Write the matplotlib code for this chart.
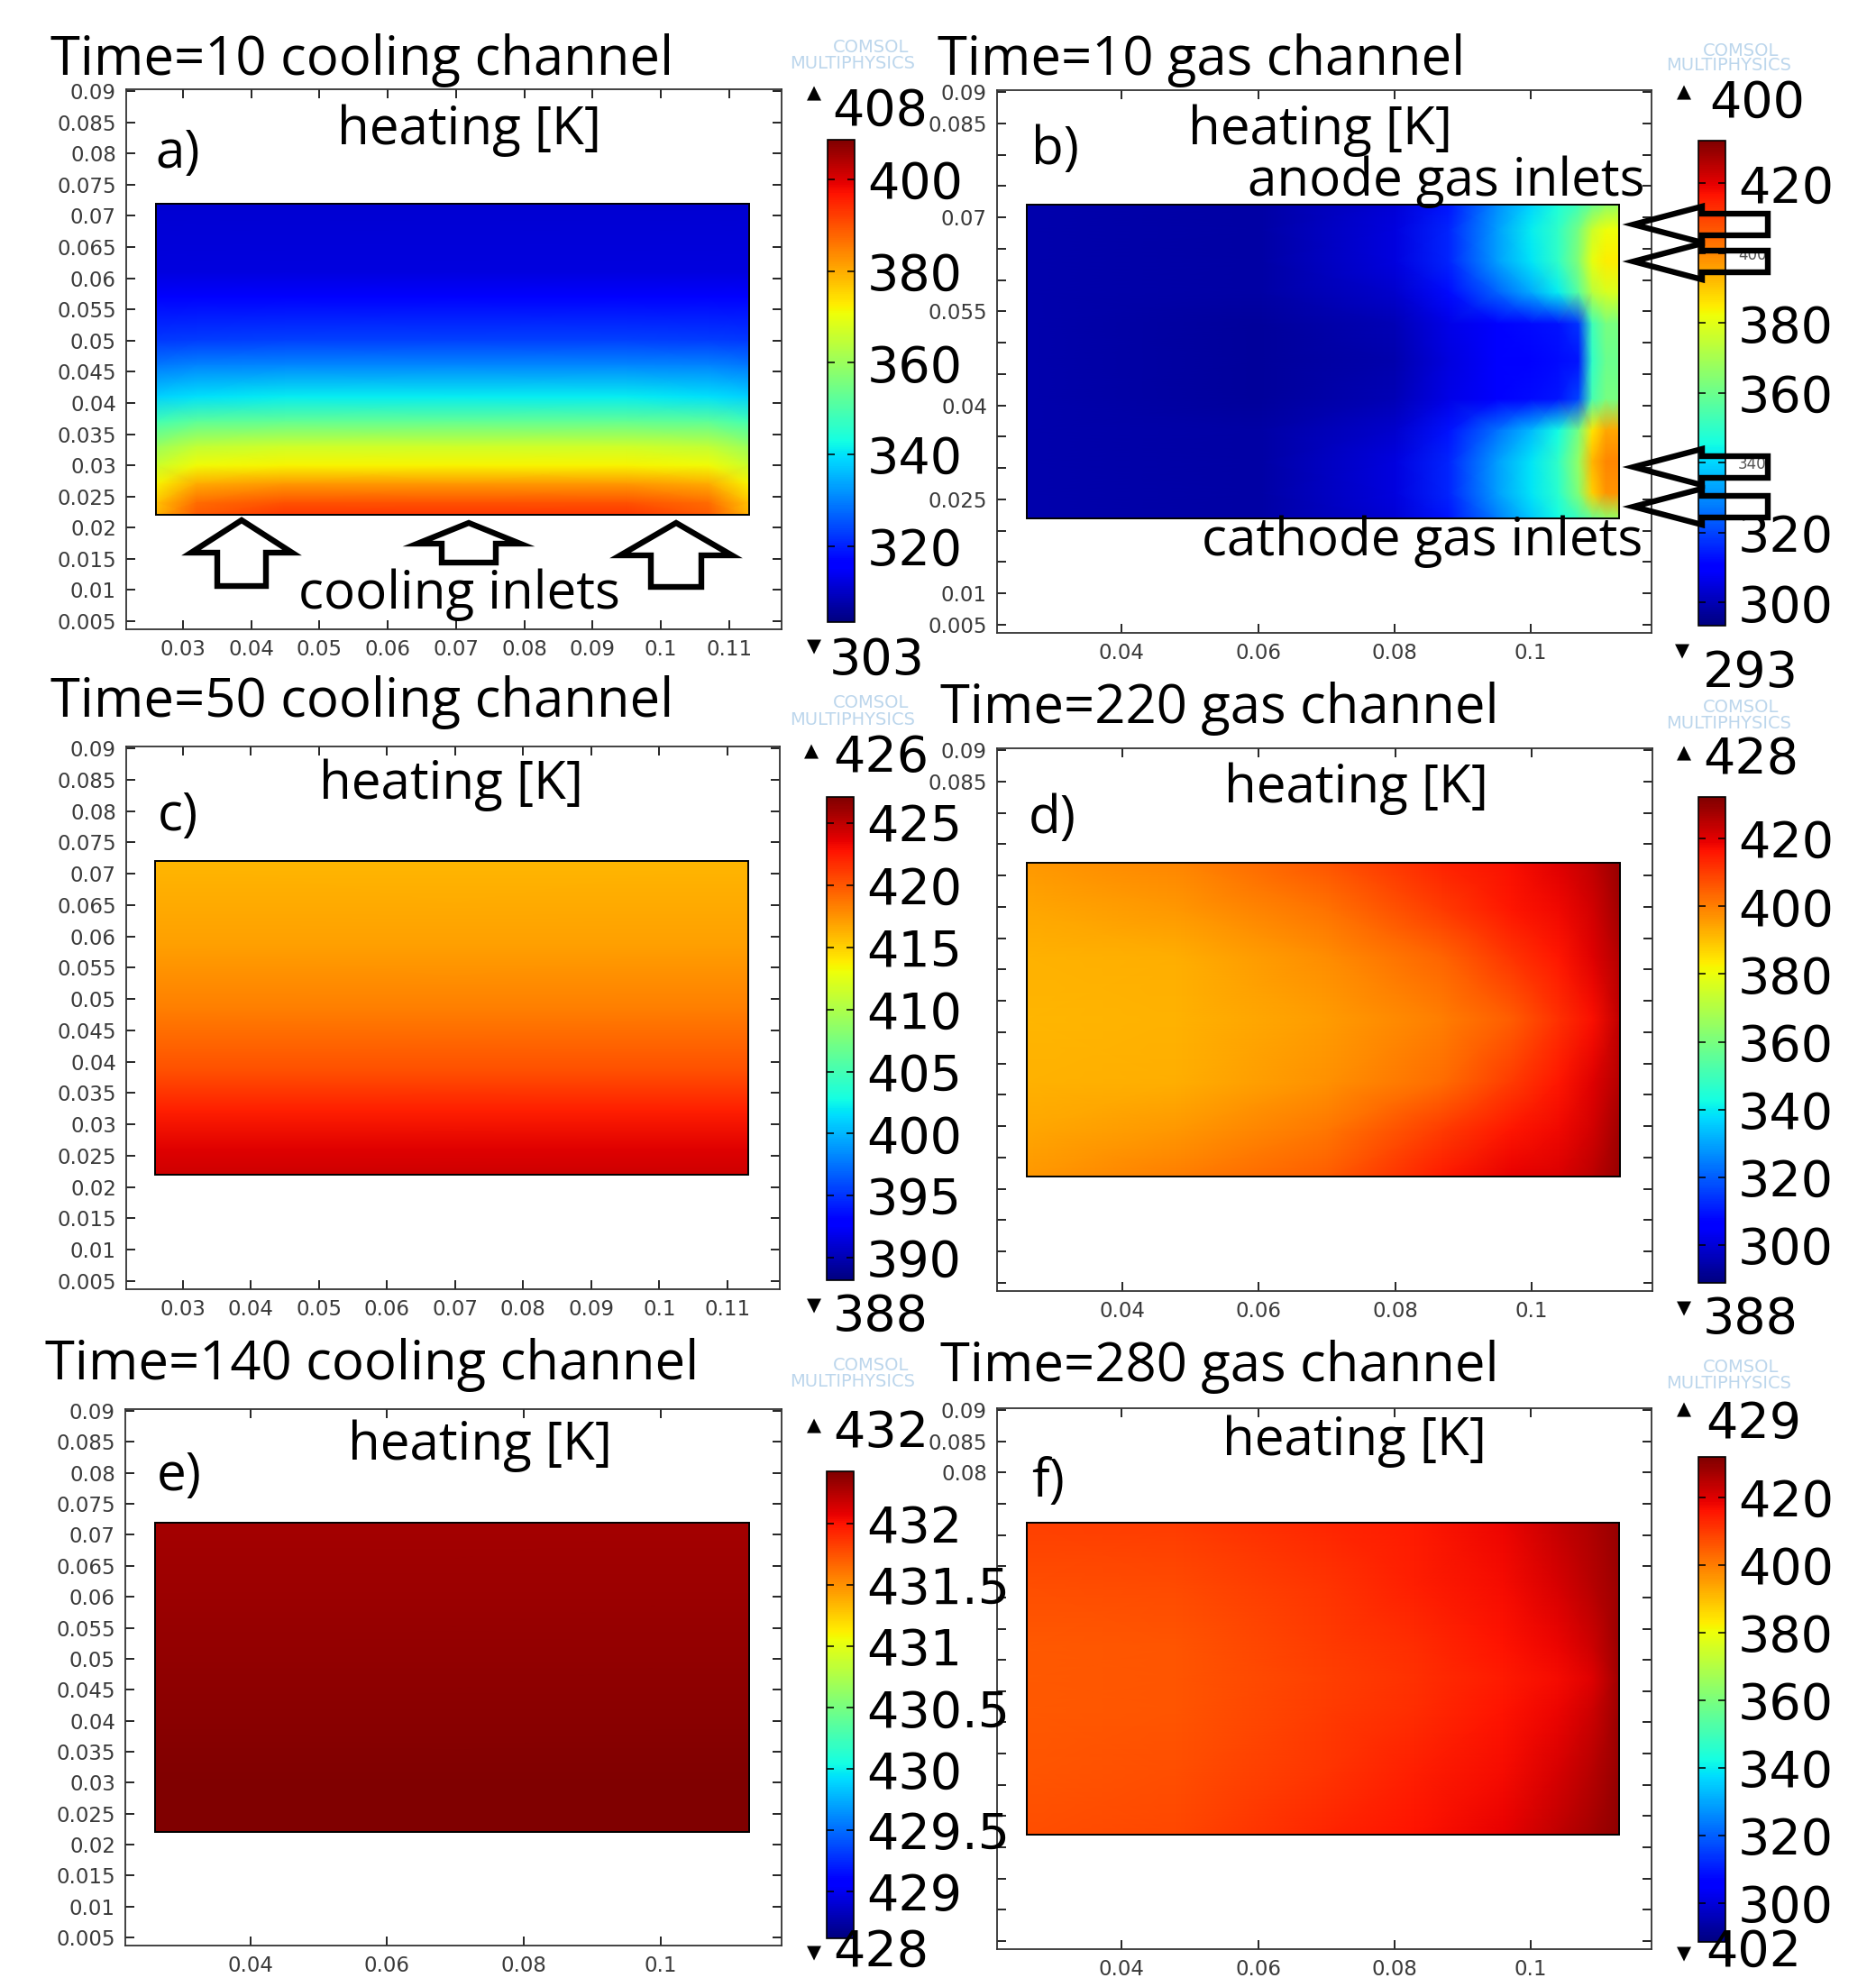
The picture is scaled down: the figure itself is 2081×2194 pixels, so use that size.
import numpy as np
import matplotlib
matplotlib.use("Agg")
import matplotlib.pyplot as plt
from matplotlib.patches import Polygon, Rectangle

# ---------------- data ----------------
# heating field [K] on the channel rectangle, rows from top (y=0.072) to bottom (y=0.022)

# a) Time=10 cooling channel
a_x = [0.026, 0.032, 0.045, 0.07, 0.095, 0.107, 0.113]
a_y = [0.072, 0.061, 0.057, 0.050, 0.046, 0.041, 0.037, 0.033, 0.030, 0.027, 0.024, 0.022]
a_T = [
    [311, 311, 311, 311, 311, 311, 311],
    [312.5, 312.5, 312.5, 312.5, 312.5, 312.5, 312.5],
    [315.5, 316, 316, 316, 316, 316, 315.5],
    [322.5, 323, 323.5, 323.5, 323.5, 323, 322.5],
    [329, 330.5, 331, 331, 331, 330.5, 329],
    [338, 340, 341, 341, 341, 340, 338],
    [349, 352, 353, 353, 353, 352, 349],
    [360, 365, 366.5, 366.5, 366.5, 365, 360],
    [366, 371, 372, 372, 372, 371, 366],
    [372, 380, 382, 382, 382, 380, 372],
    [377, 387, 390, 390, 390, 387, 377],
    [379, 389, 393, 393, 393, 389, 379],
]

# b) Time=10 gas channel
b_x = [0.026, 0.06, 0.08, 0.088, 0.095, 0.100, 0.104, 0.107, 0.109, 0.111, 0.113]
b_y = [0.072, 0.068, 0.063, 0.058, 0.053, 0.047, 0.041, 0.036, 0.031, 0.026, 0.022]
b_T = [
    [299, 298, 304, 314, 330, 340, 347, 353, 360, 366, 368],
    [299, 298, 305, 316, 332, 343, 350, 362, 376, 382, 382],
    [299, 298, 305, 316, 332, 342, 350, 364, 381, 385, 385],
    [299, 298, 303, 312, 324, 334, 343, 357, 373, 378, 378],
    [299, 297, 300, 306, 310, 312, 313, 318, 352, 362, 362],
    [299, 297, 299, 305, 309, 311, 312, 314, 350, 360, 360],
    [299, 297, 300, 306, 310, 312, 314, 320, 354, 362, 362],
    [299, 298, 303, 313, 326, 336, 345, 362, 386, 395, 395],
    [299, 298, 305, 316, 332, 342, 350, 367, 393, 400, 400],
    [299, 298, 305, 316, 332, 342, 349, 364, 389, 398, 398],
    [299, 298, 304, 314, 328, 338, 345, 352, 360, 366, 368],
]

# c) Time=50 cooling channel (no variation along x)
c_x = [0.026, 0.113]
c_y = [0.072, 0.0586, 0.0484, 0.0383, 0.0322, 0.026, 0.022]
c_T = [
    [416.1, 416.1],
    [417.0, 417.0],
    [418.3, 418.3],
    [420.3, 420.3],
    [422.3, 422.3],
    [423.8, 423.8],
    [424.5, 424.5],
]

# d) Time=220 gas channel
d_x = [0.026, 0.048, 0.070, 0.087, 0.097, 0.104, 0.109, 0.113]
d_y = [0.072, 0.0645, 0.057, 0.047, 0.037, 0.0295, 0.022]
d_T = [
    [396, 399, 406, 414, 417, 420, 424, 429],
    [394, 396, 402, 410, 416, 418, 422, 428],
    [392.5, 393, 398, 404, 411, 416, 420, 426],
    [391.5, 392, 395.5, 400, 405, 412, 417, 424],
    [392.5, 393, 397, 403, 410, 416, 420, 426],
    [394, 396, 401, 410, 416, 418, 422, 428],
    [396, 400, 405, 415, 419, 421, 425, 429],
]

# e) Time=140 cooling channel
e_x = [0.026, 0.113]
e_y = [0.072, 0.06, 0.05, 0.04, 0.03, 0.022]
e_T = [
    [432.30, 432.30],
    [432.33, 432.33],
    [432.36, 432.36],
    [432.39, 432.39],
    [432.42, 432.42],
    [432.43, 432.43],
]

# f) Time=280 gas channel
f_x = [0.026, 0.048, 0.070, 0.083, 0.096, 0.104, 0.109, 0.113]
f_y = [0.072, 0.062, 0.052, 0.047, 0.042, 0.032, 0.022]
f_T = [
    [409, 410, 413, 415, 418, 423, 426, 429],
    [407, 407.5, 411, 414, 417, 421, 425, 428.5],
    [405.5, 406, 409.5, 412, 416, 418, 422, 428],
    [405.5, 406, 409, 411.5, 415, 417, 420, 427.5],
    [405.5, 406, 409.5, 412, 416, 418, 422, 428],
    [406, 407, 411, 414, 417, 421, 425, 429],
    [407, 408, 413, 416, 419, 424, 427, 430],
]

# axis ticks
y_ticks = [0.005, 0.01, 0.015, 0.02, 0.025, 0.03, 0.035, 0.04, 0.045,
           0.05, 0.055, 0.06, 0.065, 0.07, 0.075, 0.08, 0.085, 0.09]
y_labels_full = ['0.005', '0.01', '0.015', '0.02', '0.025', '0.03', '0.035', '0.04', '0.045',
                 '0.05', '0.055', '0.06', '0.065', '0.07', '0.075', '0.08', '0.085', '0.09']
y_labels_b = ['0.005', '0.01', '', '', '0.025', '', '', '0.04', '',
              '', '0.055', '', '', '0.07', '', '', '0.085', '0.09']
y_labels_d = ['', '', '', '', '', '', '', '', '', '', '', '', '', '', '', '', '0.085', '0.09']
y_labels_f = ['', '', '', '', '', '', '', '', '', '', '', '', '', '', '', '0.08', '0.085', '0.09']
x_ticks_fine = [0.03, 0.04, 0.05, 0.06, 0.07, 0.08, 0.09, 0.1, 0.11]
x_labels_fine = ['0.03', '0.04', '0.05', '0.06', '0.07', '0.08', '0.09', '0.1', '0.11']
x_ticks_coarse = [0.04, 0.06, 0.08, 0.1]
x_labels_coarse = ['0.04', '0.06', '0.08', '0.1']

# colour ranges and colourbar ticks
a_range, a_cticks = (303.5, 408.6), [320, 340, 360, 380, 400]
b_range, b_cticks = (293.4, 432.2), [300, 320, 340, 360, 380, 400, 420]
c_range, c_cticks = (388.2, 427.1), [390, 395, 400, 405, 410, 415, 420, 425]
d_range, d_cticks = (288.8, 432.3), [300, 320, 340, 360, 380, 400, 420]
e_range, e_cticks = (428.62, 432.43), [429, 429.5, 430, 430.5, 431, 431.5, 432]
f_range, f_cticks = (288.4, 431.9), [300, 320, 340, 360, 380, 400, 420]
e_clabels = ['429', '429.5', '430', '430.5', '431', '431.5', '432']

# ---------------- layout helpers (pixel positions on the 2081x2194 canvas) ----------------
W, H = 2081, 2194
fig = plt.figure(figsize=(W / 100, H / 100), dpi=100)


def box(l, t, r, b):
    return [l / W, 1 - b / H, (r - l) / W, (b - t) / H]


def put(x, y, s, **kw):
    fig.text(x / W, 1 - y / H, s, **kw)


def shape(points, lw=4.6):
    pts = [(px / W, 1 - py / H) for px, py in points]
    fig.add_artist(Polygon(pts, closed=True, fill=False, ec='black', lw=lw,
                           joinstyle='miter', transform=fig.transFigure, zorder=20))


def panel(axbox, cbbox, xs, ys, T, vr, xt, xl, yl, ct, cl=None):
    ax = fig.add_axes(box(*axbox))
    X, Y = np.meshgrid(xs, ys)
    m = ax.pcolormesh(X, Y, np.array(T), shading='gouraud', cmap='jet',
                      vmin=vr[0], vmax=vr[1])
    ax.add_patch(Rectangle((min(xs), min(ys)), max(xs) - min(xs), max(ys) - min(ys),
                           fill=False, ec='black', lw=1.4))
    ax.set_xlim(0.0217, 0.1177)
    ax.set_ylim(0.0037, 0.0903)
    ax.set_xticks(xt)
    ax.set_xticklabels(xl)
    ax.set_yticks(y_ticks)
    ax.set_yticklabels(yl)
    ax.tick_params(direction='in', top=True, right=True, length=7, width=1.2,
                   labelsize=16.5, labelcolor='#3a3a3a', pad=8)
    for s in ax.spines.values():
        s.set_linewidth(1.3)
        s.set_color('#333333')
    cax = fig.add_axes(box(*cbbox))
    cax.set_zorder(5)
    cb = fig.colorbar(m, cax=cax, ticks=ct)
    if cl is not None:
        cb.ax.set_yticklabels(cl)
    cb.ax.tick_params(direction='in', left=True, right=True, length=6, width=1.1,
                      labelsize=40, pad=10)
    cb.outline.set_linewidth(1.2)
    return ax, cb


title_kw = dict(family='Open Sans', fontsize=43, ha='left', va='baseline')
big_kw = dict(family='Open Sans', fontsize=42, va='baseline')
num_kw = dict(family='DejaVu Sans', fontsize=40, ha='left', va='baseline', zorder=10)
tri_kw = dict(family='DejaVu Sans', fontsize=15, ha='center', va='center')
wm_kw = dict(family='DejaVu Sans', fontsize=14, color='#bcd6ec', va='center')

# ---------------- panels ----------------
panel((140, 99, 867, 698), (918, 155, 948, 690), a_x, a_y, a_T, a_range,
      x_ticks_fine, x_labels_fine, y_labels_full, a_cticks)
_, cb_b = panel((1106, 100, 1832, 702), (1884, 156, 1914, 694), b_x, b_y, b_T, b_range,
                x_ticks_coarse, x_labels_coarse, y_labels_b, b_cticks)
for t in cb_b.ax.get_yticklabels():
    if t.get_text() in ('340', '400'):
        t.set_fontsize(12)
        t.set_color('#555555')
panel((140, 828, 865, 1430), (917, 884, 947, 1420), c_x, c_y, c_T, c_range,
      x_ticks_fine, x_labels_fine, y_labels_full, c_cticks)
panel((1106, 830, 1833, 1432), (1884, 884, 1914, 1423), d_x, d_y, d_T, d_range,
      x_ticks_coarse, x_labels_coarse, y_labels_d, d_cticks)
panel((139, 1563, 867, 2158), (917, 1632, 947, 2150), e_x, e_y, e_T, e_range,
      x_ticks_coarse, x_labels_coarse, y_labels_full, e_cticks, e_clabels)
panel((1106, 1562, 1832, 2162), (1884, 1616, 1914, 2154), f_x, f_y, f_T, f_range,
      x_ticks_coarse, x_labels_coarse, y_labels_f, f_cticks)

# ---------------- titles and labels ----------------
put(56, 83, 'Time=10 cooling channel', **title_kw)
put(1040, 83, 'Time=10 gas channel', **title_kw)
put(56, 795, 'Time=50 cooling channel', **title_kw)
put(1043, 802, 'Time=220 gas channel', **title_kw)
put(50, 1530, 'Time=140 cooling channel', **title_kw)
put(1043, 1532, 'Time=280 gas channel', **title_kw)

for x, y in [(520, 160), (1464, 160), (501, 886), (1504, 890), (532, 1619), (1502, 1614)]:
    put(x, y, 'heating [K]', ha='center', **big_kw)
for x, y, s in [(172, 186, 'a)'), (1144, 182, 'b)'), (175, 921, 'c)'),
                (1141, 924, 'd)'), (174, 1653, 'e)'), (1144, 1660, 'f)')]:
    put(x, y, s, ha='left', **big_kw)

put(509, 675, 'cooling inlets', ha='center', **big_kw)
put(1824, 217, 'anode gas inlets', ha='right', **big_kw)
put(1822, 616, 'cathode gas inlets', ha='right', **big_kw)

# max / min markers beside colour bars
for tx, ty, nx, ny, s in [(903, 103, 923, 139, '408'), (1868, 102, 1896, 130, '400'),
                          (900, 833, 924, 856, '426'), (1868, 835, 1889, 858, '428'),
                          (903, 1581, 924, 1605, '432'), (1868, 1563, 1892, 1595, '429')]:
    put(tx, ty, '\u25b2', **tri_kw)
    put(nx, ny, s, **num_kw)
for tx, ty, nx, ny, s in [(903, 717, 920, 748, '303'), (1866, 722, 1889, 762, '293'),
                          (903, 1448, 924, 1476, '388'), (1868, 1451, 1889, 1479, '388'),
                          (903, 2166, 924, 2181, '428'), (1868, 2167, 1892, 2181, '402')]:
    put(tx, ty, '\u25bc', **tri_kw)
    put(nx, ny, s, **num_kw)

# COMSOL watermark
for cx, cy, rx, ry in [(966, 53, 1015, 70), (1931, 56, 1987, 73), (966, 780, 1015, 798),
                       (1931, 785, 1987, 802), (966, 1515, 1015, 1532), (1931, 1517, 1987, 1534)]:
    put(cx, cy, 'COMSOL', ha='center', **wm_kw)
    put(rx, ry, 'MULTIPHYSICS', ha='right', **wm_kw)

# ---------------- inlet arrows ----------------
for tip_x, tip_y, hw, base_y, sw, bot_y in [(268, 577, 56, 613, 27, 650),
                                             (520, 580, 57, 603, 30, 624),
                                             (750, 580, 62, 616, 28, 651)]:
    shape([(tip_x, tip_y), (tip_x + hw, base_y), (tip_x + sw, base_y), (tip_x + sw, bot_y),
           (tip_x - sw, bot_y), (tip_x - sw, base_y), (tip_x - hw, base_y)])

for cy in [249, 290, 518, 562]:
    shape([(1812, cy), (1888, cy - 20), (1888, cy - 12), (1961, cy - 12),
           (1961, cy + 12), (1888, cy + 12), (1888, cy + 20)])

fig.savefig('out.png', dpi=100)
